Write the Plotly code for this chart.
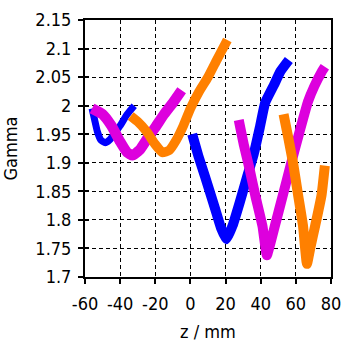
import plotly.graph_objects as go

# Gamma vs. z position, three colour families, two scans each
blue_a_z = [-56, -54.5, -53, -51, -48.5, -46, -43, -40, -36, -32]
blue_a_g = [1.995, 1.975, 1.955, 1.94, 1.935, 1.94, 1.952, 1.965, 1.985, 2.0]

blue_b_z = [1, 4.5, 8.3, 14, 17.5, 20.5, 24, 28, 32.3, 36, 39.5, 42.5, 47.5, 51.2, 56]
blue_b_g = [1.95, 1.912, 1.876, 1.82, 1.785, 1.766, 1.79, 1.83, 1.876, 1.915,
            1.962, 2.005, 2.036, 2.06, 2.08]

mag_a_z = [-56, -50, -45, -40, -36, -33, -29, -24, -20, -15, -10, -5]
mag_a_g = [1.995, 1.985, 1.965, 1.937, 1.918, 1.913, 1.922, 1.945, 1.962, 1.985,
           2.005, 2.027]

mag_b_z = [27.5, 30.5, 33.6, 36.9, 41, 43.5, 46, 48, 52.6, 57.2, 61.9, 66.9, 70.5, 74.8, 76.5]
mag_b_g = [1.975, 1.93, 1.89, 1.843, 1.789, 1.738, 1.765, 1.789, 1.843, 1.898,
           1.952, 2.007, 2.034, 2.06, 2.068]

org_a_z = [-34, -30, -25, -20, -16, -12, -8, -4, 0, 5, 10, 15, 21]
org_a_g = [1.982, 1.972, 1.955, 1.932, 1.918, 1.922, 1.94, 1.965, 1.995, 2.025,
           2.05, 2.08, 2.115]

org_b_z = [53, 55.6, 58.5, 61.3, 64.1, 66.3, 68.5, 71, 74.6, 76.5]
org_b_g = [1.985, 1.945, 1.898, 1.843, 1.789, 1.723, 1.755, 1.79, 1.843, 1.895]

x_ticks = [-60, -40, -20, 0, 20, 40, 60, 80]
x_tick_text = ["-60", "-40", "-20", "0", "20", "40", "60", "80"]
y_ticks = [1.7, 1.75, 1.8, 1.85, 1.9, 1.95, 2.0, 2.05, 2.1, 2.15]
y_tick_text = ["1.7", "1.75", "1.8", "1.85", "1.9", "1.95", "2", "2.05", "2.1", "2.15"]

BLUE = "#0000ff"
MAGENTA = "#dd00dd"
ORANGE = "#ff8000"

series = [
    (blue_a_z, blue_a_g, BLUE, 7),
    (blue_b_z, blue_b_g, BLUE, 10),
    (mag_a_z, mag_a_g, MAGENTA, 10.5),
    (mag_b_z, mag_b_g, MAGENTA, 10),
    (org_a_z, org_a_g, ORANGE, 9.5),
    (org_b_z, org_b_g, ORANGE, 10),
]

fig = go.Figure()
for z, g, col, w in series:
    fig.add_trace(go.Scatter(
        x=z, y=g, mode="lines",
        line=dict(color=col, width=w, shape="spline", smoothing=0.4),
        showlegend=False, hoverinfo="skip",
    ))

# empty trace so the overlay axis (inner half of the y ticks) is drawn
fig.add_trace(go.Scatter(x=[], y=[], yaxis="y2", showlegend=False, hoverinfo="skip"))

FONT = "DejaVu Sans Condensed, DejaVu Sans, sans-serif"
FS = 18

axis_common = dict(
    showgrid=True, gridcolor="black", gridwidth=1, griddash="4px,3px",
    showline=True, linecolor="black", linewidth=2, mirror=True,
    ticks="outside", ticklen=5, tickwidth=1.5, tickcolor="black",
    zeroline=False,
    tickfont=dict(family=FONT, size=FS, color="black"),
)

fig.update_xaxes(
    range=[-60, 80], tickmode="array", tickvals=x_ticks, ticktext=x_tick_text,
    ticklabelstandoff=4,
    title=dict(text="z / mm", font=dict(family=FONT, size=FS, color="black"), standoff=13),
    **axis_common,
)
fig.update_yaxes(
    range=[1.7, 2.15], tickmode="array", tickvals=y_ticks, ticktext=y_tick_text,
    ticklabelstandoff=3,
    title=dict(text="Gamma", font=dict(family=FONT, size=FS, color="black"), standoff=14),
    **axis_common,
)

fig.update_layout(
    width=350, height=348,
    margin=dict(l=81, r=16, t=9, b=64),
    paper_bgcolor="white", plot_bgcolor="white",
    yaxis2=dict(
        overlaying="y", anchor="x", side="left", range=[1.7, 2.15],
        tickmode="array", tickvals=y_ticks, showticklabels=False,
        ticks="inside", ticklen=4, tickwidth=1.5, tickcolor="black",
        showgrid=False, zeroline=False, showline=False,
    ),
)

fig.write_html("out.html")
